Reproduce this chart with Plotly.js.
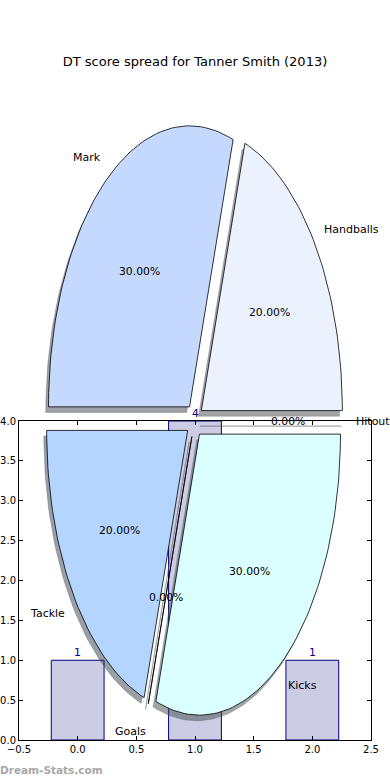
<!DOCTYPE html>
<html><head><meta charset="utf-8">
<script src="https://cdn.plot.ly/plotly-3.0.1.min.js"></script>
<style>html,body{margin:0;padding:0;background:#fff}</style>
</head><body><div id="chart" style="width:390px;height:780px"></div>
<script>
// ---- data ----
const pieLabels = ['Handballs', 'Mark', 'Tackle', 'Goals', 'Kicks', 'Hitout'];
const pieValues = [20, 30, 20, 0, 30, 0];
const pieColors = ['#ebf2fe', '#c5d9fe', '#b3d5ff', '#ffffff', '#dbffff', '#ffffff'];
const barX = [0, 1, 2];
const barY = [1, 4, 1];
const barText = ['1', '4', '1'];
const xTicks = [-0.5, 0, 0.5, 1, 1.5, 2, 2.5];
const yTicks = [0, 0.5, 1, 1.5, 2, 2.5, 3, 3.5, 4];
const titleText = 'DT score spread for Tanner Smith (2013)';
const watermark = 'Dream-Stats.com';

// ---- pie style constants ----
const EXPLODE = 0.06, LABEL_DIST = 1.1, PCT_DIST = 0.6, SHADOW_OFF = -0.02;
const FONT = 'DejaVu Sans, sans-serif';

function hexToRgb(h){ h=h.replace('#',''); return [parseInt(h.substr(0,2),16),parseInt(h.substr(2,2),16),parseInt(h.substr(4,2),16)]; }

const total = pieValues.reduce((a,b)=>a+b,0);
const shadowTraces = [], wedgeTraces = [], annotations = [];
let theta = 0;
pieValues.forEach((v,i)=>{
  const t1 = theta, t2 = theta + 360*v/total; theta = t2;
  const tm = (t1+t2)/2*Math.PI/180;
  const cx = EXPLODE*Math.cos(tm), cy = EXPLODE*Math.sin(tm);
  const xs=[cx], ys=[cy];
  const n = Math.max(2, Math.ceil((t2-t1)/1.5));
  for (let k=0;k<=n;k++){ const a=(t1+(t2-t1)*k/n)*Math.PI/180; xs.push(cx+Math.cos(a)); ys.push(cy+Math.sin(a)); }
  xs.push(cx); ys.push(cy);
  const rgb = hexToRgb(pieColors[i]);
  const sc = 'rgba('+rgb.map(c=>Math.round(c*0.3)).join(',')+',0.5)';
  shadowTraces.push({type:'scatter', mode:'lines', x:xs.map(x=>x+SHADOW_OFF), y:ys.map(y=>y+SHADOW_OFF),
    fill:'toself', fillcolor:sc, line:{color:sc, width: v===0?1.2:0.5}, xaxis:'x2', yaxis:'y2', hoverinfo:'skip', showlegend:false});
  wedgeTraces.push({type:'scatter', mode:'lines', x:xs, y:ys, fill:'toself', fillcolor:pieColors[i],
    line:{color:'#000', width:0.8}, xaxis:'x2', yaxis:'y2', hoverinfo:'skip', showlegend:false});
  const lx = cx + LABEL_DIST*Math.cos(tm), ly = cy + LABEL_DIST*Math.sin(tm);
  annotations.push({xref:'x2', yref:'y2', x:lx, y:ly, text:pieLabels[i], showarrow:false,
    xanchor: lx>0?'left':'right', xshift: lx>0?-2.5:2.5, yshift:-1, yanchor:'middle', borderpad:0, borderwidth:0,
    font:{family:FONT,size:11,color:'#000'}});
  const px = cx + PCT_DIST*Math.cos(tm), py = cy + PCT_DIST*Math.sin(tm);
  annotations.push({xref:'x2', yref:'y2', x:px, y:py, text:(100*v/total).toFixed(2)+'%', showarrow:false,
    xanchor:'center', yanchor:'middle', yshift:-1, borderpad:0, borderwidth:0, font:{family:FONT,size:10.8,color:'#000'}});
});

barX.forEach((x,i)=>{
  annotations.push({xref:'x', yref:'y', x:x, y:barY[i], text:barText[i], showarrow:false,
    xanchor:'center', yanchor:'bottom', yshift:1, borderpad:0, borderwidth:0, font:{family:FONT,size:10.8,color:'#00008b'}});
});
annotations.push({xref:'paper', yref:'paper', x:0, y:10/780, text:watermark, showarrow:false,
  xanchor:'left', yanchor:'middle', borderpad:0, borderwidth:0, font:{family:FONT,size:10.5,color:'#a8a8a8', weight:'bold'}});

const barTrace = {type:'bar', x:barX, y:barY, width:0.45, marker:{color:'#cccce5', line:{color:'#000080', width:1}},
  hoverinfo:'skip', showlegend:false, xaxis:'x', yaxis:'y'};

// pie placement (pixel geometry of the ellipse)
const W=390, H=780, PCX=194.5, PCY=420.5, RX=141, RY=281;

const layout = {
  width:W, height:H, margin:{l:0,r:0,t:0,b:0}, paper_bgcolor:'#fff', plot_bgcolor:'rgba(0,0,0,0)',
  showlegend:false,
  title:{text:titleText, x:0.5, xanchor:'center', y:1-61/780, yanchor:'middle', font:{family:FONT,size:13,color:'#000'}},
  xaxis:{domain:[19/W, 371/W], range:[-0.5,2.5], tickvals:xTicks, tickformat:'.1f', ticks:'inside', ticklen:4, tickcolor:'#000',
    showline:true, linecolor:'#000', linewidth:1, mirror:'ticks', showgrid:false, zeroline:false, anchor:'y',
    tickfont:{family:FONT,size:10,color:'#000'}, fixedrange:true},
  yaxis:{domain:[40/H, 359/H], range:[0,4], tickvals:yTicks, tickformat:'.1f', ticks:'inside', ticklen:4, tickcolor:'#000',
    showline:true, linecolor:'#000', linewidth:1, mirror:'ticks', showgrid:false, zeroline:false, anchor:'x',
    tickfont:{family:FONT,size:10,color:'#000'}, fixedrange:true},
  xaxis2:{domain:[0,1], range:[-PCX/RX, (W-PCX)/RX], visible:false, anchor:'y2', fixedrange:true},
  yaxis2:{domain:[0,1], range:[-(H-PCY)/RY, PCY/RY], visible:false, anchor:'x2', fixedrange:true},
  annotations:annotations
};

Plotly.newPlot('chart', [barTrace].concat(shadowTraces, wedgeTraces), layout, {displayModeBar:false, staticPlot:true});
</script></body></html>
